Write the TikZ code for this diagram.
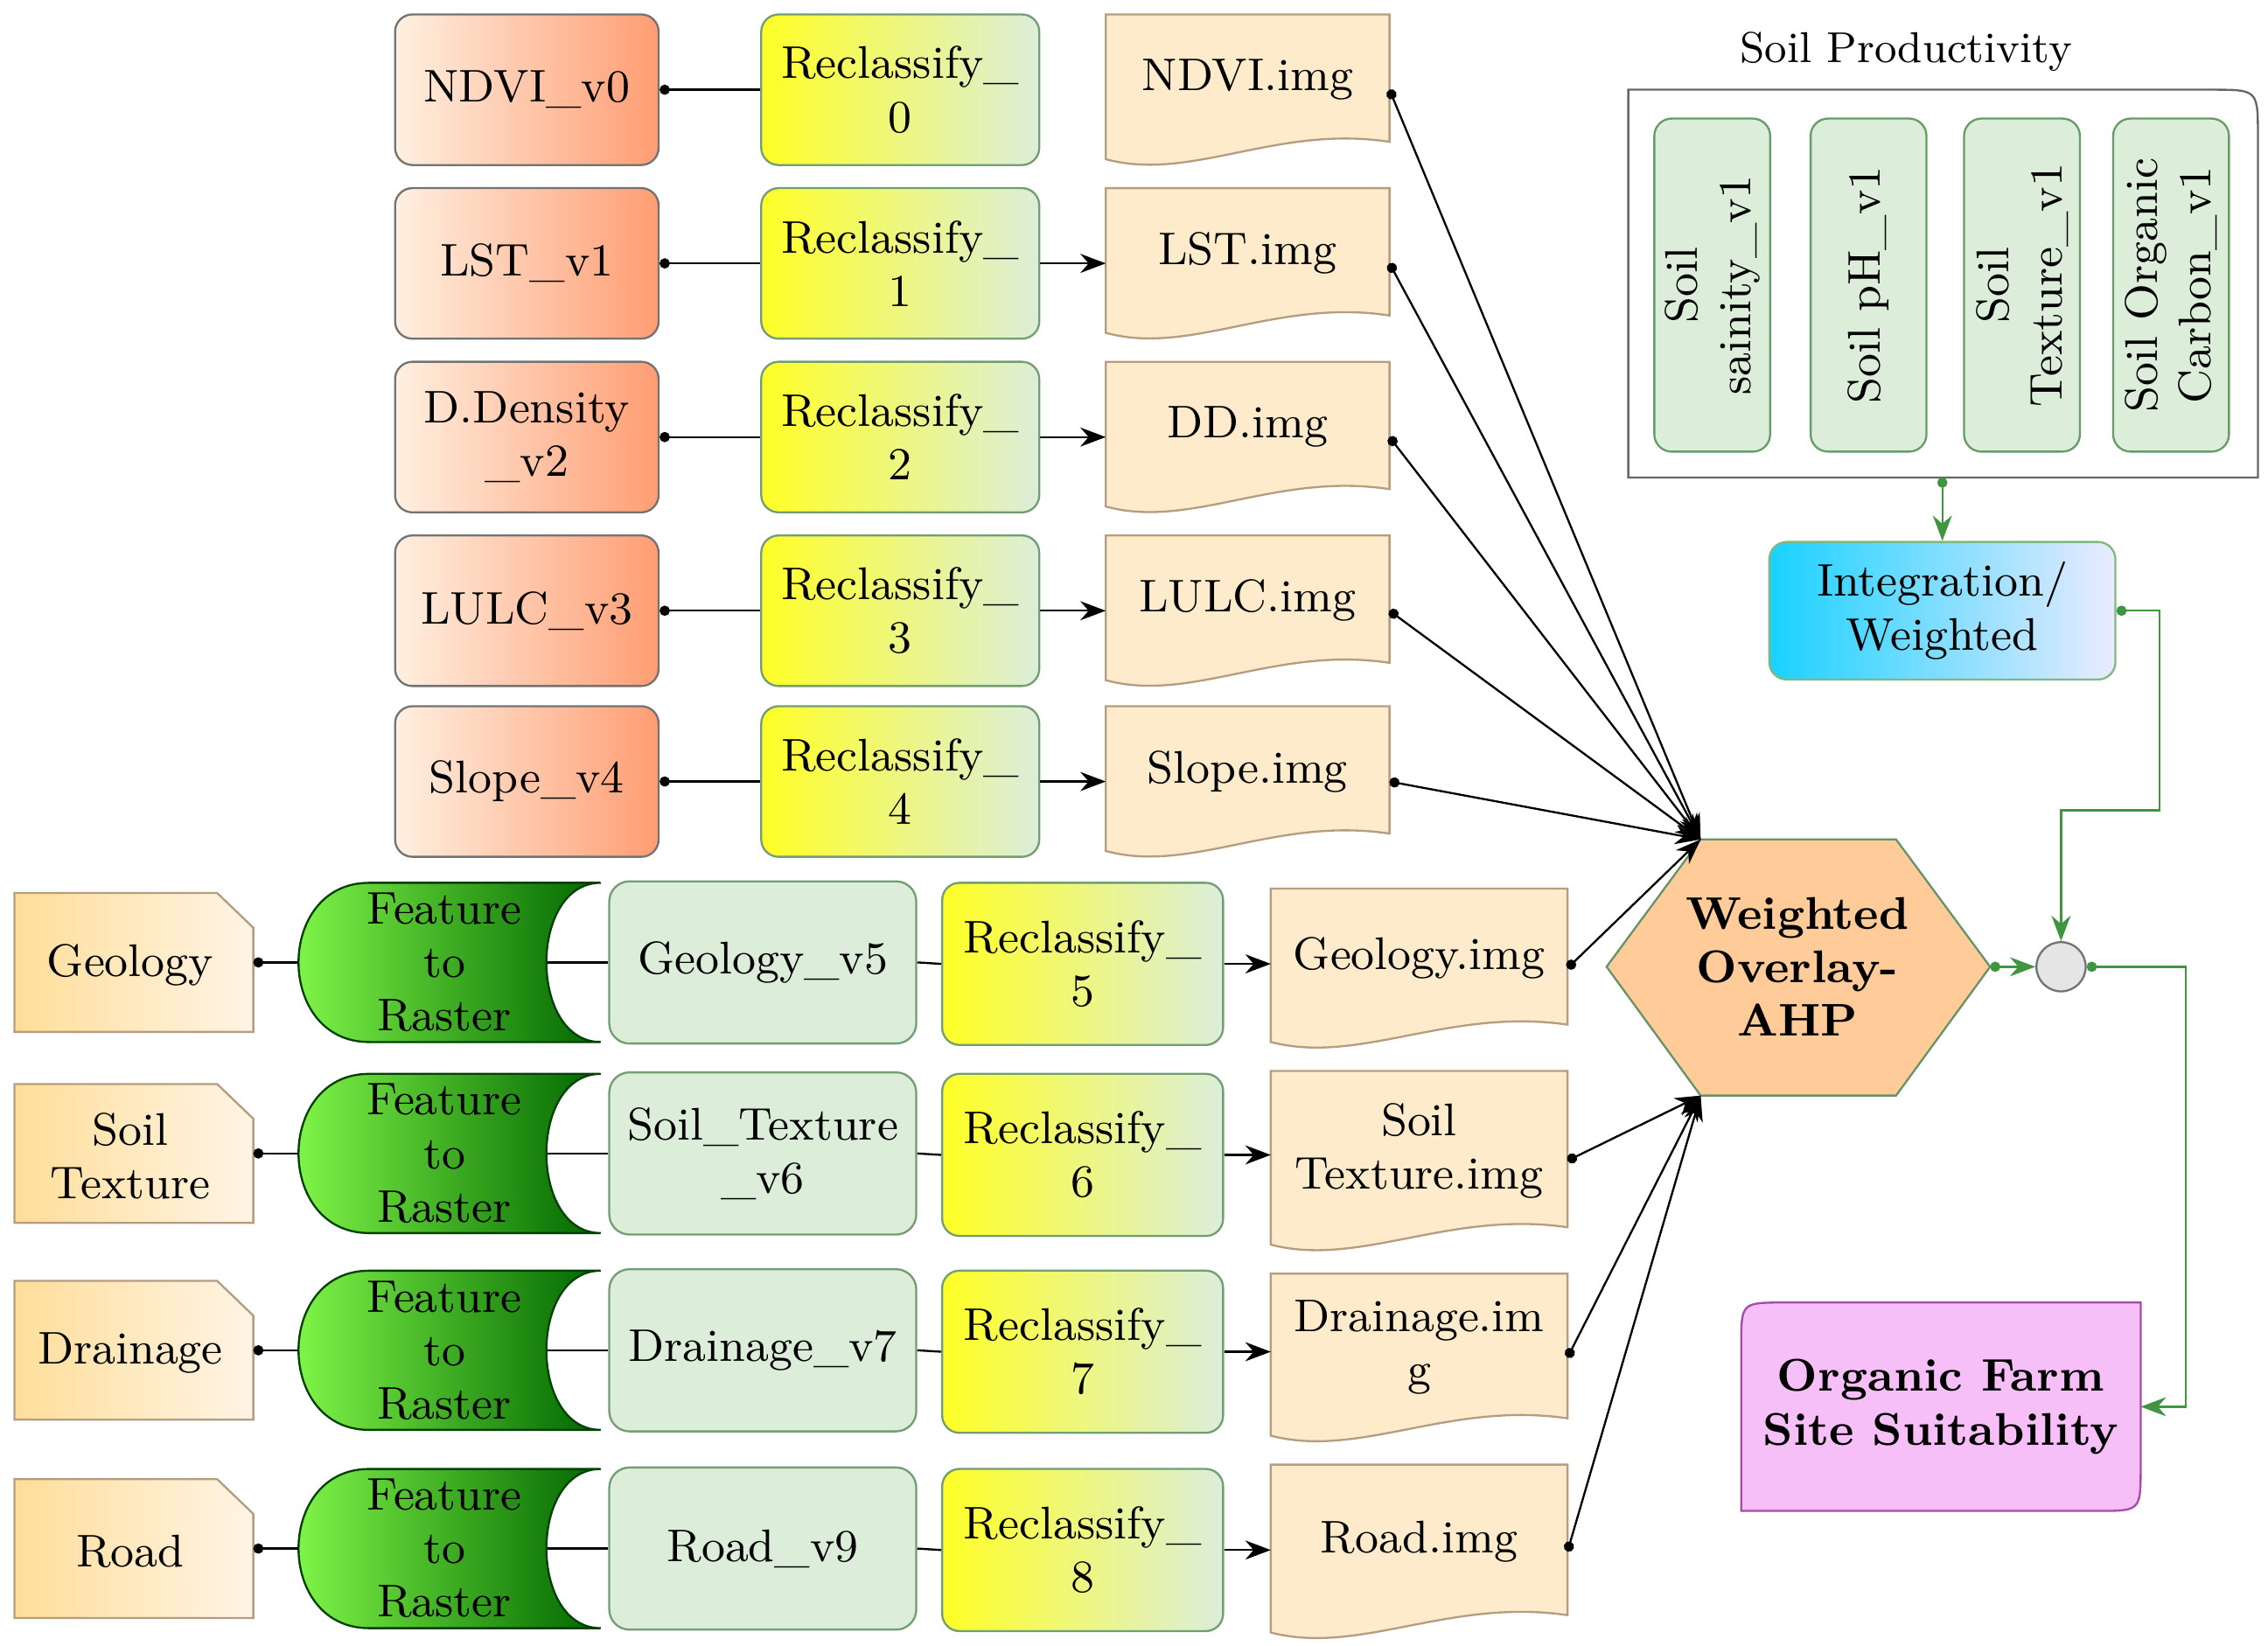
\documentclass[tikz,border=0pt]{standalone}
\usetikzlibrary{arrows.meta}
\definecolor{pgreen}{HTML}{DCEEDA}
\begin{document}
\begin{tikzpicture}[x=0.01cm,y=-0.01cm,font=\fontsize{9}{10.5}\selectfont,
 txt/.style={align=center,inner sep=0pt},
 inbox/.style={draw=black!55,rounded corners=0.12cm,shading=axis,left color=orange!12,right color=orange!60!red!55!white,minimum width=1.82cm,minimum height=1.04cm,txt},
 recl/.style={draw=green!30!black!55,rounded corners=0.12cm,shading=axis,left color=yellow!85!white,right color=pgreen,minimum width=1.92cm,minimum height=1.04cm,txt},
 gbox/.style={draw=green!30!black!55,rounded corners=0.14cm,fill=pgreen,minimum width=2.12cm,minimum height=1.12cm,txt},
 imgst/.style={draw=brown!70!black!60,fill=yellow!20!orange!18!white},
 bdoc/.style={draw=brown!70!black!60,shading=axis,left color=yellow!35!orange!40!white,right color=yellow!15!orange!10!white},
 feat/.style={draw=green!25!black,shading=axis,left color=green!55!lime!70!white,right color=green!40!black},
 ln/.style={{Circle[length=2pt]}-},
 ar/.style={{Circle[length=2pt]}-{Stealth[length=5pt]}},
 gar/.style={green!45!black!75,{Circle[length=2pt]}-{Stealth[length=5pt]}},
 sbox/.style={draw=green!35!black!60,rounded corners=0.12cm,fill=pgreen,minimum width=2.3cm,minimum height=0.8cm,txt,rotate=90}]
\useasboundingbox (0,0) rectangle (1567,1137);
\newcommand\docimg[6]{%
 \draw[imgst] (#2,#3) -- (#4,#3) -- (#4,#5-16) .. controls ({#2*0.4+#4*0.6},#5-28) and ({#2*0.7+#4*0.3},#5+12) .. (#2,#5-4) -- cycle;
 \node[txt] (#1) at ({(#2+#4)/2},{(#3+#5)/2-7}) {#6};
 \coordinate (#1e) at (#4,{(#3+#5)/2});}
% hexagon
\draw[draw=green!30!black!60,fill=orange!40!white] (1110,668) coordinate (hw) -- (1175,580) coordinate (htl) -- (1310,580) -- (1375,668) coordinate (he) -- (1310,757) -- (1175,757) coordinate (hbl) -- cycle;
\node[txt,font=\fontsize{9}{10.5}\selectfont\bfseries] (hex) at (1242,668) {Weighted\\Overlay-\\AHP};
% top rows
\foreach \i/\y/\t in {0/62/NDVI\_v0,1/182/LST\_v1,2/302/D.Density\\\_v2,3/422/LULC\_v3,4/540/Slope\_v4}{
 \node[inbox] (in\i) at (364,\y) {\t};
 \node[recl] (rc\i) at (622,\y) {Reclassify\_\\\i};
 \draw[ln] (in\i.east) -- (rc\i.west);
}
\docimg{img0}{764}{10}{960}{114}{NDVI.img}
\docimg{img1}{764}{130}{960}{234}{LST.img}
\docimg{img2}{764}{250}{960}{354}{DD.img}
\docimg{img3}{764}{370}{960}{474}{LULC.img}
\docimg{img4}{764}{488}{960}{592}{Slope.img}
\foreach \i in {1,2,3,4}{\draw[-{Stealth[length=5pt]}] (rc\i.east) -- (rc\i.east-|764,0);}
\foreach \i in {0,...,4}{\draw[ar] (img\i e) -- (htl);}
% bottom rows
\foreach \i/\y/\a/\g/\n in {5/665/Geology/Geology\_v5/5,6/797/Soil\\Texture/Soil\_Texture\\\_v6/6,7/933/Drainage/Drainage\_v7/7,8/1070/Road/Road\_v9/8}{
 \draw[bdoc] (10,\y-48) -- (150,\y-48) -- (175,\y-24) -- (175,\y+48) -- (10,\y+48) -- cycle;
 \node[txt] (dc\i) at (90,\y+2) {\a};
 \coordinate (dce\i) at (175,\y);
 \draw[feat] (415,\y-55) -- (255,\y-55) .. controls (190,\y-55) and (190,\y+55) .. (255,\y+55) -- (415,\y+55) .. controls (365,\y+55) and (365,\y-55) .. (415,\y-55) -- cycle;
 \node[txt] (ft\i) at (307,\y) {Feature\\to\\Raster};
 \coordinate (ftw\i) at (206,\y);
 \coordinate (fte\i) at (378,\y);
 \node[gbox] (gb\i) at (527,\y) {\g};
 \node[recl,minimum width=1.94cm,minimum height=1.12cm] (rc\i) at (748,\y+1) {Reclassify\_\\\n};
 \draw[ln] (dce\i) -- (ftw\i);
 \draw (fte\i) -- (gb\i.west);
 \draw (gb\i.east) -- (rc\i.west);
}
\docimg{img5}{878}{614}{1083}{724}{Geology.img}
\docimg{img6}{878}{740}{1083}{864}{Soil\\Texture.img}
\docimg{img7}{878}{880}{1083}{996}{Drainage.im\\g}
\docimg{img8}{878}{1012}{1083}{1132}{Road.img}
\foreach \i in {5,6,7,8}{\draw[-{Stealth[length=5pt]}] (rc\i.east) -- (rc\i.east-|878,0);}
\draw[ar] (img5e) -- (htl);
\foreach \i in {6,7,8}{\draw[ar] (img\i e) -- (hbl);}
% soil productivity
\node[txt,font=\fontsize{8.5}{10}\selectfont] (sptitle) at (1317,36) {Soil Productivity};
\draw[draw=black!60] (1125,330) -- (1125,62) -- (1528,62) .. controls (1560,62) .. (1560,94) -- (1560,330) -- cycle;
\coordinate (spb) at (1342,330);
\node[sbox] (s1) at (1183,197) {Soil\\sainity\_v1};
\node[sbox] (s2) at (1291,197) {Soil pH\_v1};
\node[sbox] (s3) at (1397,197) {Soil\\Texture\_v1};
\node[sbox] (s4) at (1500,197) {Soil Organic\\Carbon\_v1};
\node[draw=green!45!black!50,rounded corners=0.12cm,shading=axis,left color=cyan!80!blue!90!white,right color=blue!8!white,minimum width=2.39cm,minimum height=0.95cm,txt] (integ) at (1342,422) {Integration/\\Weighted};
\draw[gar] (spb) -- (integ.north);
\node[circle,draw=black!55,fill=black!10,minimum size=0.34cm,inner sep=0pt] (circ) at (1424,668) {};
\draw[gar] (integ.east) -- (1492,422) |- (1424,560) -- (circ.north);
\draw[gar] (he) -- (circ.west);
% organic
\draw[draw=violet!70!white,fill=violet!25!magenta!25!white] (1203,1044) -- (1203,930) .. controls (1203,900) .. (1233,900) -- (1479,900) -- (1479,1014) .. controls (1479,1044) .. (1449,1044) -- cycle;
\node[txt,font=\fontsize{9}{10.5}\selectfont\bfseries] (org) at (1341,972) {Organic Farm\\Site Suitability};
\coordinate (orge) at (1479,972);
\draw[gar] (circ.east) -- (1510,668) |- (orge);
\end{tikzpicture}
\end{document}
